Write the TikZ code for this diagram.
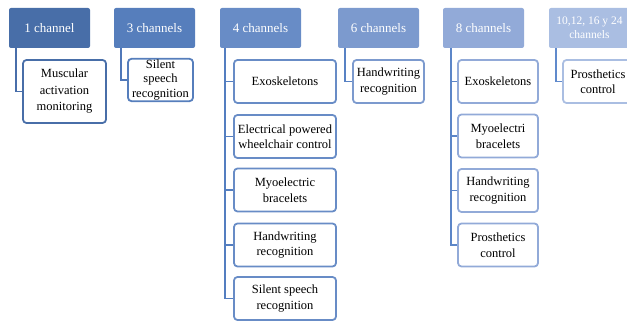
\documentclass[tikz,border=0pt]{standalone}
\usepackage{fontspec}
\setmainfont{Liberation Serif}
\usetikzlibrary{calc}
\begin{document}
\begin{tikzpicture}[x=1pt,y=-1pt,
  hdr/.style={rectangle, rounded corners=2pt, minimum width=81pt, minimum height=40pt,
    text=white, font=\fontsize{13}{14}\selectfont, align=center, inner sep=1pt},
  leaf/.style={rectangle, rounded corners=3.5pt, draw, line width=1.8pt, fill=white,
    font=\fontsize{12.5}{15.5}\selectfont, align=center, inner sep=1pt},
  conn/.style={line width=1.8pt}
]
\definecolor{cA}{RGB}{72,110,168}
\definecolor{cB}{RGB}{86,126,188}
\definecolor{cC}{RGB}{104,140,198}
\definecolor{cD}{RGB}{124,154,206}
\definecolor{cE}{RGB}{146,170,216}
\definecolor{cF}{RGB}{170,190,226}
\definecolor{kA}{RGB}{72,110,170}
\definecolor{kB}{RGB}{80,120,185}
\definecolor{kC}{RGB}{84,126,192}
\definecolor{kD}{RGB}{88,130,196}
\definecolor{kE}{RGB}{92,134,200}
\definecolor{kF}{RGB}{96,138,204}
\useasboundingbox (0,0) rectangle (627,321);

% headers
\node[hdr, fill=cA] (h1) at (49.5,28) {1 channel};
\node[hdr, fill=cB] (h2) at (154.5,28) {3 channels};
\node[hdr, fill=cC] (h3) at (260.5,28) {4 channels};
\node[hdr, fill=cD] (h4) at (378.5,28) {6 channels};
\node[hdr, fill=cE] (h5) at (483.5,28) {8 channels};
\node[hdr, fill=cF, font=\fontsize{11.5}{14}\selectfont] (h6) at (589.5,28) {10,12, 16 y 24\\channels};

% group 1
\node[leaf, draw=cA, minimum width=83pt, minimum height=63pt, font=\fontsize{12.5}{16.5}\selectfont] (a1) at (64.5,91.5) {Muscular\\activation\\monitoring};
\draw[conn, kA] ($(h1.south west)+(7,0)$) |- (a1.west);

% group 2
\node[leaf, draw=cB, minimum width=65pt, minimum height=40pt, font=\fontsize{12.5}{14.5}\selectfont] (b1) at (160.5,80) {Silent\\speech\\recognition};
\draw[conn, kB] ($(h2.south west)+(7,0)$) |- (b1.west);

% group 3
\node[leaf, draw=cC, minimum width=102pt, minimum height=43pt] (c1) at (285,81.5) {Exoskeletons};
\node[leaf, draw=cC, minimum width=102pt, minimum height=43pt] (c2) at (285,136.5) {Electrical powered\\wheelchair control};
\node[leaf, draw=cC, minimum width=102pt, minimum height=43pt] (c3) at (285,190) {Myoelectric\\bracelets};
\node[leaf, draw=cC, minimum width=102pt, minimum height=43pt] (c4) at (285,245) {Handwriting\\recognition};
\node[leaf, draw=cC, minimum width=102pt, minimum height=43pt] (c5) at (285,298.5) {Silent speech\\recognition};
\foreach \c in {c1,c2,c3,c4,c5}
  \draw[conn, kC] ($(h3.south west)+(5,0)$) |- (\c.west);

% group 4
\node[leaf, draw=cD, minimum width=71pt, minimum height=43pt] (d1) at (388.5,81.5) {Handwriting\\recognition};
\draw[conn, kD] ($(h4.south west)+(7,0)$) |- (d1.west);

% group 5
\node[leaf, draw=cE, minimum width=80pt, minimum height=43pt] (e1) at (498,81.5) {Exoskeletons};
\node[leaf, draw=cE, minimum width=80pt, minimum height=43pt] (e2) at (498,136) {Myoelectri\\bracelets};
\node[leaf, draw=cE, minimum width=80pt, minimum height=43pt] (e3) at (498,190.5) {Handwriting\\recognition};
\node[leaf, draw=cE, minimum width=80pt, minimum height=43pt] (e4) at (498,245) {Prosthetics\\control};
\foreach \c in {e1,e2,e3,e4}
  \draw[conn, kE] ($(h5.south west)+(8,0)$) |- (\c.west);

% group 6
\node[leaf, draw=cF, minimum width=70pt, minimum height=43pt] (f1) at (598,81.5) {Prosthetics\\control};
\draw[conn, kF] ($(h6.south west)+(7,0)$) |- (f1.west);
\end{tikzpicture}
\end{document}
